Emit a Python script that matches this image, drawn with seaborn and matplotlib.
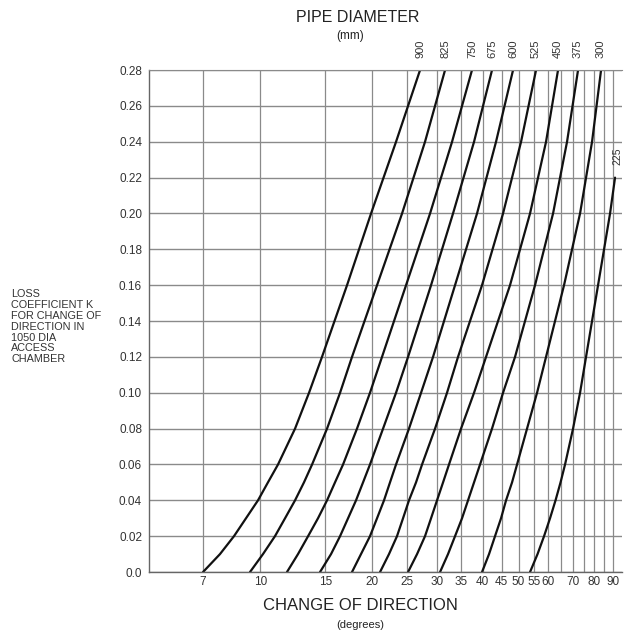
import pandas as pd
import matplotlib.pyplot as plt
import matplotlib.transforms as mtransforms
import seaborn as sns

# Loss coefficient levels
k_levels = [0.0, 0.01, 0.02, 0.03, 0.04, 0.05, 0.06, 0.08, 0.10, 0.12,
            0.16, 0.20, 0.24, 0.28]
k_levels_225 = [0.0, 0.01, 0.02, 0.03, 0.04, 0.05, 0.06, 0.08, 0.10, 0.12,
                0.16, 0.20, 0.22]

# Change of direction (degrees) at each K level, one list per pipe diameter (mm)
deg_900 = [7.0, 7.78, 8.49, 9.15, 9.86, 10.49, 11.17, 12.42, 13.55, 14.69, 17.17, 19.94, 23.30, 27.06]
deg_825 = [9.38, 10.17, 10.96, 11.67, 12.42, 13.13, 13.81, 15.16, 16.44, 17.71, 20.70, 24.19, 27.91, 31.62]
deg_750 = [11.81, 12.65, 13.47, 14.33, 15.16, 15.93, 16.75, 18.27, 19.81, 21.35, 24.80, 28.80, 33.03, 37.40]
deg_675 = [14.51, 15.54, 16.44, 17.28, 18.16, 18.97, 19.81, 21.49, 23.30, 25.11, 28.98, 33.23, 37.88, 42.37]
deg_600 = [17.71, 18.73, 19.81, 20.70, 21.62, 22.44, 23.30, 25.26, 27.23, 29.34, 33.65, 38.59, 43.44, 48.30]
deg_525 = [21.09, 22.30, 23.44, 24.34, 25.26, 26.39, 27.40, 29.71, 32.01, 34.28, 39.81, 45.38, 50.77, 55.74]
deg_450 = [25.11, 26.56, 27.91, 28.98, 30.08, 31.23, 32.41, 34.93, 37.88, 40.82, 47.40, 53.69, 59.32, 63.92]
deg_375 = [30.65, 32.21, 33.65, 35.15, 36.49, 37.88, 39.32, 42.37, 45.38, 48.90, 55.39, 61.97, 67.61, 72.41]
deg_300 = [39.81, 41.59, 43.17, 44.82, 46.24, 48.00, 49.52, 52.70, 56.09, 59.32, 66.36, 73.32, 79.01, 83.57]
deg_225 = [53.69, 56.26, 58.59, 60.82, 62.94, 64.93, 66.78, 70.19, 73.32, 76.11, 82.02, 88.39, 91.18]

diameters = ["900", "825", "750", "675", "600", "525", "450", "375", "300", "225"]
curves = [deg_900, deg_825, deg_750, deg_675, deg_600, deg_525,
          deg_450, deg_375, deg_300, deg_225]

x_ticks = [7, 10, 15, 20, 25, 30, 35, 40, 45, 50, 55, 60, 70, 80, 90]
x_extra_grid = [65, 75, 85]
y_ticks = [0.0, 0.02, 0.04, 0.06, 0.08, 0.10, 0.12, 0.14, 0.16, 0.18,
           0.20, 0.22, 0.24, 0.26, 0.28]
y_labels = ["0.0"] + [f"{v:.2f}" for v in y_ticks[1:]]

rows = []
for name, degs in zip(diameters, curves):
    ks = k_levels_225 if name == "225" else k_levels
    for d, k in zip(degs, ks):
        rows.append({"deg": d, "K": k, "dia": name})
df = pd.DataFrame(rows)

sns.set_style("white")
plt.rcParams["font.family"] = ["Liberation Sans", "DejaVu Sans"]

fig = plt.figure(figsize=(6.24, 6.37), dpi=100)
ax = fig.add_axes([0.2388, 0.102, 0.7574, 0.788])

grid_col = "#8a8a8a"
for v in x_ticks + x_extra_grid:
    ax.axvline(v, color=grid_col, lw=0.9, zorder=0)
for v in y_ticks:
    ax.axhline(v, color=grid_col, lw=1.0, zorder=0)

sns.lineplot(data=df, x="deg", y="K", hue="dia", hue_order=diameters,
             palette=["#111111"] * len(diameters), estimator=None, sort=False,
             linewidth=1.6, legend=False, ax=ax)

ax.set_xscale("log")
ax.set_xlim(5, 95)
ax.set_ylim(0, 0.28)
ax.set_xticks(x_ticks)
ax.set_xticklabels([str(v) for v in x_ticks], fontsize=8.5, color="#333333")
ax.set_xticks([], minor=True)
ax.set_yticks(y_ticks)
ax.set_yticklabels(y_labels, fontsize=8.5, color="#333333")
ax.tick_params(axis="x", length=0, pad=3)
ax.tick_params(axis="y", length=3, color=grid_col, pad=2)
ax.set_xlabel("")
ax.set_ylabel("")

for side in ["left", "bottom"]:
    ax.spines[side].set_color("#666666")
    ax.spines[side].set_linewidth(1.0)
ax.spines["top"].set_color(grid_col)
ax.spines["right"].set_visible(False)

# Pipe diameter labels at the curve ends
trans = mtransforms.blended_transform_factory(ax.transData, ax.transAxes)
for name, degs in zip(diameters[:-1], curves[:-1]):
    ax.text(degs[-1], 1.042, name, transform=trans, rotation=90,
            ha="center", va="center", fontsize=8, color="#333333")
ax.text(92.3, 0.232, "225", rotation=90, ha="center", va="center",
        fontsize=7.5, color="#333333", clip_on=False)

fig.text(0.574, 0.972, "PIPE DIAMETER", ha="center", va="center",
         fontsize=11.5, color="#222222")
fig.text(0.561, 0.944, "(mm)", ha="center", va="center",
         fontsize=8.5, color="#222222")
fig.text(0.577, 0.050, "CHANGE OF DIRECTION", ha="center", va="center",
         fontsize=12, color="#222222")
fig.text(0.577, 0.019, "(degrees)", ha="center", va="center",
         fontsize=8, color="#222222")
fig.text(0.018, 0.487,
         "LOSS\nCOEFFICIENT K\nFOR CHANGE OF\nDIRECTION IN\n1050 DIA\nACCESS\nCHAMBER",
         ha="left", va="center", fontsize=7.8, color="#333333", linespacing=1.1)

fig.savefig("out.png", dpi=100)
